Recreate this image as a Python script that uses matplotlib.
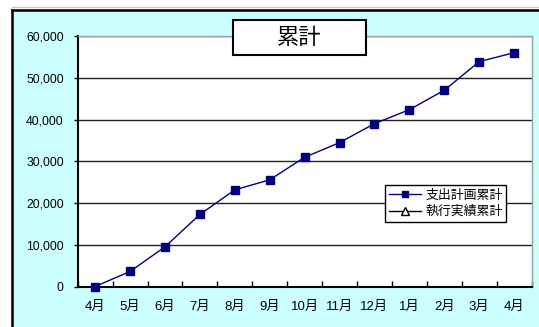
import matplotlib
matplotlib.use("Agg")
import matplotlib.pyplot as plt
from matplotlib.patches import Rectangle
from matplotlib.lines import Line2D
from matplotlib.ticker import FuncFormatter, FixedLocator
import numpy as np

months = ["4月", "5月", "6月", "7月", "8月", "9月", "10月", "11月", "12月", "1月", "2月", "3月", "4月"]
plan_cum = [0, 3600, 9500, 17250, 23150, 25550, 30950, 34450, 39000, 42350, 47000, 53850, 56000]
actual_cum = []  # 執行実績累計: no values plotted
yticks = [0, 10000, 20000, 30000, 40000, 50000, 60000]
title = "累計"
series_names = ["支出計画累計", "執行実績累計"]

W, H = 539, 327
fig = plt.figure(figsize=(W / 100, H / 100), dpi=100)
fig.patch.set_facecolor("white")

def fx(px):
    return px / W

def fy(py):
    return 1 - py / H

# chart area background
fig.add_artist(Rectangle((fx(12), 0), 1 - fx(12), fy(9), facecolor="#CCFFFF",
                         edgecolor="none", zorder=-2))
fig.add_artist(Line2D([fx(12), 1.0], [fy(7.3), fy(7.3)], color="#c8c8c8", lw=1, zorder=-1))
fig.add_artist(Line2D([fx(12.5), 1.0], [fy(9.5), fy(9.5)], color="black", lw=1.8, zorder=-1))
fig.add_artist(Line2D([fx(12.5), fx(12.5)], [0, fy(9.5)], color="black", lw=1.8, zorder=-1))

left, right, top, bottom = 77.7, 531.5, 36.0, 286.5
ax = fig.add_axes([fx(left), fy(bottom), fx(right - left), (bottom - top) / H])
ax.set_facecolor("white")

x = np.arange(len(months))
ax.plot(x, plan_cum, color="#000080", lw=1, marker="s", markersize=5.5,
        markerfacecolor="#000080", markeredgecolor="#000080", zorder=4, clip_on=False)
ax.plot(x[:len(actual_cum)], actual_cum, color="black", lw=1, marker="^",
        markerfacecolor="white", markeredgecolor="black", zorder=4)

ax.set_xlim(-0.5, len(months) - 0.5)
ax.set_ylim(0, 60000)

ax.set_yticks(yticks)
ax.yaxis.set_major_formatter(FuncFormatter(lambda v, p: f"{int(v):,}"))
ax.tick_params(axis="y", direction="out", length=3, width=1, pad=7, labelsize=8.8)
for v in yticks[1:]:
    ax.axhline(v, color="#222222", lw=1, zorder=1)

ax.set_xticks(x)
ax.set_xticklabels(months)
ax.xaxis.set_minor_locator(FixedLocator(np.arange(-0.5, len(months), 1.0)))
ax.tick_params(axis="x", which="major", length=0, pad=10, labelsize=9.5)
ax.tick_params(axis="x", which="minor", direction="in", length=4, width=1)

tick_fam = ["Liberation Sans", "Noto Sans CJK JP"]
for lab in ax.get_xticklabels() + ax.get_yticklabels():
    lab.set_family(tick_fam)

for s in ["left", "bottom"]:
    ax.spines[s].set_color("black")
    ax.spines[s].set_linewidth(1.5)
for s in ["right", "top"]:
    ax.spines[s].set_color("#a0a0a0")
    ax.spines[s].set_linewidth(1)

# title box
fig.add_artist(Rectangle((fx(233), fy(55)), fx(366 - 233), (55 - 20) / H, facecolor="white",
                         edgecolor="black", lw=1.5, zorder=5))
fig.text(fx(299.5), fy(38), title, ha="center", va="center", fontsize=16,
         family=["Noto Sans CJK JP"], zorder=6)

handles = [
    Line2D([], [], color="#000080", lw=1, marker="s", markersize=5,
           markerfacecolor="#000080", markeredgecolor="#000080"),
    Line2D([], [], color="black", lw=1, marker="^", markersize=6,
           markerfacecolor="white", markeredgecolor="black"),
]
leg = fig.legend(handles, series_names, loc="upper left",
                 bbox_to_anchor=(fx(385), fy(185)), frameon=True, fancybox=False,
                 prop={"family": ["Noto Sans CJK JP"], "size": 9.3},
                 handlelength=2.5, handletextpad=0.3, borderpad=0.3,
                 labelspacing=0.25, borderaxespad=0)
leg.get_frame().set_edgecolor("black")
leg.get_frame().set_linewidth(1)
leg.get_frame().set_alpha(1)
leg.set_zorder(6)

fig.savefig("out.png", dpi=100)
